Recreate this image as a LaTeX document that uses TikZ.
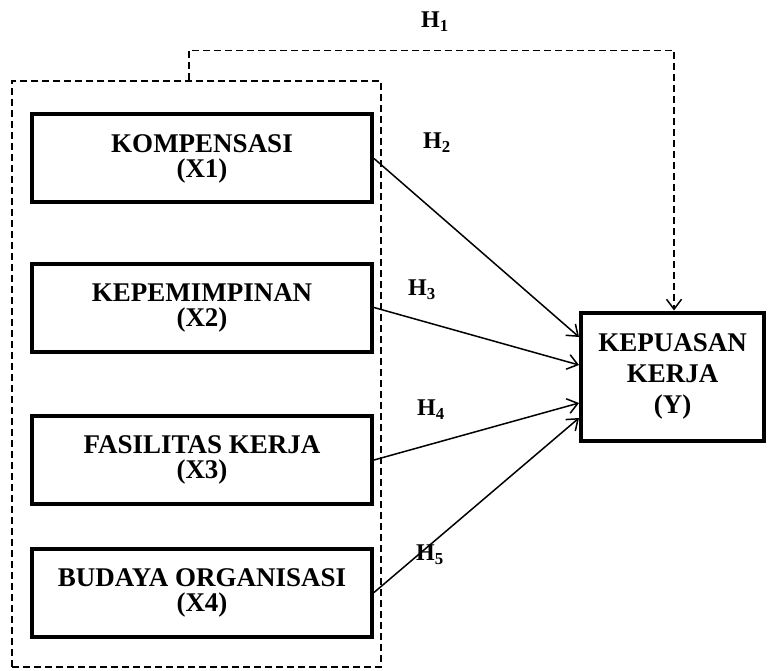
\documentclass[tikz,border=0pt]{standalone}
\usepackage{fontspec}
\setmainfont{Liberation Serif}
\usetikzlibrary{arrows.meta}

\begin{document}
\begin{tikzpicture}[x=1pt,y=-1pt,
  varbox/.style={draw, line width=4pt, minimum width=340pt, minimum height=88pt, inner sep=0pt, align=center, font=\bfseries\fontsize{27}{25}\selectfont},
  hlabel/.style={font=\bfseries\fontsize{24}{24}\selectfont},
  arr/.style={line width=1.5pt, -{Straight Barb[length=10pt,width=15pt,line width=1.5pt]}},
  dashline/.style={line width=1.3pt, dash pattern=on 7pt off 4pt}]
\useasboundingbox (0,0) rectangle (768,671);

\node[draw, dashline, minimum width=369pt, minimum height=586pt] (grp) at (196.5,374) {};

\node[varbox] (x1) at (202,158.5) {KOMPENSASI\\(X1)};
\node[varbox] (x2) at (202,307.5) {KEPEMIMPINAN\\(X2)};
\node[varbox] (x3) at (202,460) {FASILITAS KERJA\\(X3)};
\node[varbox] (x4) at (202,592.5) {BUDAYA ORGANISASI\\(X4)};
\node[varbox, minimum width=183pt, minimum height=128pt, font=\bfseries\fontsize{27}{31}\selectfont] (y) at (672.5,376.5) {KEPUASAN\\KERJA\\(Y)};

\node[hlabel] (h1) at (435,22) {H\textsubscript{1}};
\node[hlabel] (h2) at (437,143) {H\textsubscript{2}};
\node[hlabel] (h3) at (422,290) {H\textsubscript{3}};
\node[hlabel] (h4) at (431,410) {H\textsubscript{4}};
\node[hlabel] (h5) at (430,555) {H\textsubscript{5}};

\draw[arr] (x1.east) -- ([yshift=39.5pt]y.west);
\draw[arr] (x2.east) -- ([yshift=11.5pt]y.west);
\draw[arr] (x3.east) -- ([yshift=-26.5pt]y.west);
\draw[arr] (x4.east) -- ([yshift=-41.5pt]y.west);
% H1 dari kotak putus-putus
\draw[arr, dashline] ([xshift=-7.5pt]grp.north) -- ++(0,-30) -| ([xshift=1.5pt]y.north);
\end{tikzpicture}
\end{document}
